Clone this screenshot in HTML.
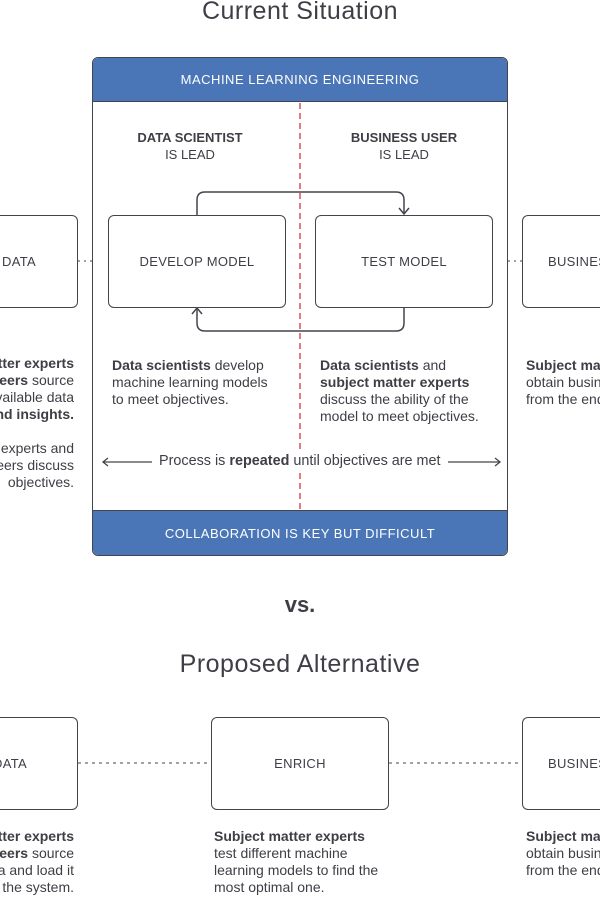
<!DOCTYPE html>
<html><head><meta charset="utf-8"><style>
*{margin:0;padding:0;box-sizing:border-box}
html,body{width:600px;height:900px;overflow:hidden}
body{background:#fff;position:relative;font-family:"Liberation Sans",sans-serif;color:#3e3e46}
.a{position:absolute}
.box{position:absolute;border:1.5px solid #44444c;border-radius:6px;background:#fff;display:flex;align-items:center;justify-content:center;font-size:13px;letter-spacing:0.3px;color:#3e3e46;overflow:hidden;white-space:nowrap}
.t{position:absolute;font-size:14px;line-height:17px;white-space:nowrap}
b{font-weight:bold}
.c{text-align:center}
</style></head><body>
<div class="a c" style="left:0;width:600px;top:-3px;font-size:25px;letter-spacing:0.5px">Current Situation</div>

<div class="a" style="left:92px;top:57px;width:416px;height:499px;border:1.5px solid #44444c;border-radius:6px;overflow:hidden;background:#fff">
 <div class="a c" style="left:0;top:0;width:100%;height:44px;background:#4a76b8;color:#fff;font-size:13px;line-height:44px;letter-spacing:0.5px;border-bottom:1.5px solid #44444c">MACHINE LEARNING ENGINEERING</div>
 <div class="a c" style="left:0;bottom:0;width:100%;height:45px;background:#4a76b8;color:#fff;font-size:13px;line-height:45px;letter-spacing:0.5px;border-top:1.5px solid #44444c">COLLABORATION IS KEY BUT DIFFICULT</div>
</div>
<svg class="a" style="left:0;top:0" width="600" height="900">
 <line x1="300" y1="103" x2="300" y2="510" stroke="#d9333f" stroke-width="1.3" stroke-dasharray="6,4"/>
 <path d="M197 215 V200 Q197 192 205 192 H396 Q404 192 404 200 V214" fill="none" stroke="#44444c" stroke-width="1.5"/>
 <path d="M399 208 L404 214 L409 208" fill="none" stroke="#44444c" stroke-width="1.5"/>
 <path d="M404 307 V323 Q404 331 396 331 H205 Q197 331 197 323 V308" fill="none" stroke="#44444c" stroke-width="1.5"/>
 <path d="M192 314 L197 308 L202 314" fill="none" stroke="#44444c" stroke-width="1.5"/>
 <line x1="78" y1="261" x2="92" y2="261" stroke="#44444c" stroke-dasharray="2,4"/>
 <line x1="508" y1="261" x2="522" y2="261" stroke="#44444c" stroke-dasharray="2,4"/>
 <line x1="103" y1="462" x2="152" y2="462" stroke="#44444c" stroke-width="1.3"/>
 <path d="M108 458 L103 462 L108 466" fill="none" stroke="#44444c" stroke-width="1.3"/>
 <line x1="448" y1="462" x2="500" y2="462" stroke="#44444c" stroke-width="1.3"/>
 <path d="M495 458 L500 462 L495 466" fill="none" stroke="#44444c" stroke-width="1.3"/>
 <line x1="78" y1="763" x2="211" y2="763" stroke="#44444c" stroke-dasharray="3,4"/>
 <line x1="389" y1="763" x2="522" y2="763" stroke="#44444c" stroke-dasharray="3,4"/>
</svg>
<div class="t c" style="left:110px;width:160px;top:129px;font-size:13px"><b>DATA SCIENTIST</b><br>IS LEAD</div>
<div class="t c" style="left:324px;width:160px;top:129px;font-size:13px"><b>BUSINESS USER</b><br>IS LEAD</div>
<div class="box" style="left:0;top:215px;width:78px;height:93px;justify-content:flex-end;padding-right:41px;border-left:none;border-radius:0 6px 6px 0">DATA</div>
<div class="box" style="left:108px;top:215px;width:178px;height:93px">DEVELOP MODEL</div>
<div class="box" style="left:315px;top:215px;width:178px;height:93px">TEST MODEL</div>
<div class="box" style="left:522px;top:215px;width:78px;height:93px;justify-content:flex-start;padding-left:25px;border-right:none;border-radius:6px 0 0 6px">BUSINESS</div>
<div class="t" style="left:112px;top:357px"><b>Data scientists</b> develop<br>machine learning models<br>to meet objectives.</div>
<div class="t" style="left:320px;top:357px"><b>Data scientists</b> and<br><b>subject matter experts</b><br>discuss the ability of the<br>model to meet objectives.</div>
<div class="a" style="left:526px;top:357px;width:74px;height:60px;overflow:hidden"><div class="t" style="left:0;top:0"><b>Subject matter experts</b><br>obtain business value<br>from the end results.</div></div>
<div class="a" style="left:0;top:355px;width:74px;height:140px;overflow:hidden"><div class="t" style="right:0;top:0;text-align:right"><b>Subject matter experts</b><br><b>and engineers</b> source<br>the available data<br><b>and insights.</b><br><br>Subject experts and<br>engineers discuss<br>objectives.</div></div>
<div class="t" style="left:156px;top:453px;font-size:14.4px;background:#fff;padding:0 3px">Process is <b>repeated</b> until objectives are met</div>
<div class="a c" style="left:0;width:600px;top:592px;font-size:22px;font-weight:bold">vs.</div>
<div class="a c" style="left:0;width:600px;top:650px;font-size:25px;letter-spacing:0.5px">Proposed Alternative</div>
<div class="box" style="left:0;top:717px;width:78px;height:93px;justify-content:flex-end;padding-right:50px;border-left:none;border-radius:0 6px 6px 0">DATA</div>
<div class="box" style="left:211px;top:717px;width:178px;height:93px">ENRICH</div>
<div class="box" style="left:522px;top:717px;width:78px;height:93px;justify-content:flex-start;padding-left:25px;border-right:none;border-radius:6px 0 0 6px">BUSINESS</div>
<div class="a" style="left:0;top:828px;width:74px;height:72px;overflow:hidden"><div class="t" style="right:0;top:0;text-align:right"><b>Subject matter experts</b><br><b>and engineers</b> source<br>the data and load it<br>into the system.</div></div>
<div class="t" style="left:214px;top:828px"><b>Subject matter experts</b><br>test different machine<br>learning models to find the<br>most optimal one.</div>
<div class="a" style="left:526px;top:828px;width:74px;height:72px;overflow:hidden"><div class="t" style="left:0;top:0"><b>Subject matter experts</b><br>obtain business value<br>from the end results.</div></div>
</body></html>
